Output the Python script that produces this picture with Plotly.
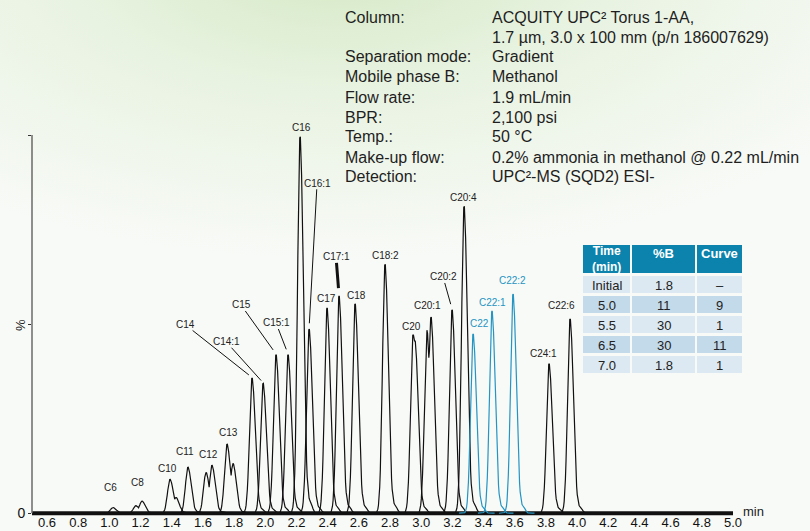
import base64
import numpy as np
import plotly.graph_objects as go

# ---- peak table: compound, retention time (min), relative intensity (%) ----
PEAK_NAMES = ["C6", "C8", "C10", "C11", "C12", "C13", "C14", "C14:1", "C15", "C15:1",
              "C16", "C16:1", "C17", "C17:1", "C18", "C18:2", "C20", "C20:1", "C20:2",
              "C20:4", "C22", "C22:1", "C22:2", "C24:1", "C22:6"]
PEAK_TIMES = [1.023, 1.209, 1.389, 1.504, 1.658, 1.755, 1.915, 1.986, 2.069, 2.146,
              2.223, 2.281, 2.396, 2.473, 2.576, 2.768, 2.948, 3.063, 3.198,
              3.275, 3.333, 3.454, 3.589, 3.820, 3.955]
PEAK_HEIGHTS = [1.5, 3.2, 9.0, 12.2, 12.7, 18.3, 35.9, 34.5, 42.1, 42.1,
                100.0, 48.9, 54.5, 57.7, 55.6, 66.1, 47.4, 52.1, 54.0,
                81.5, 47.6, 53.7, 58.2, 39.7, 51.6]
BLUE_PEAKS = ["C22", "C22:1", "C22:2"]

# unresolved shoulders riding on some of the channels
SHOULDER_PEAKS = ["C8", "C10", "C12", "C13", "C20", "C20:1"]
SHOULDER_TIMES = [1.170, 1.427, 1.620, 1.793, 2.960, 3.037]
SHOULDER_HEIGHTS = [2.0, 4.2, 10.8, 13.2, 45.8, 48.4]

# gradient table
TABLE_HEADER = ["Time<br>(min)", "%B", "Curve"]
TABLE_TIME = ["Initial", "5.0", "5.5", "6.5", "7.0"]
TABLE_B = ["1.8", "11", "30", "30", "1.8"]
TABLE_CURVE = ["\u2013", "9", "1", "11", "1"]

# method conditions
COND_KEYS = ["Column:", "", "Separation mode:", "Mobile phase B:", "Flow rate:",
             "BPR:", "Temp.:", "Make-up flow:", "Detection:"]
COND_VALUES = ["ACQUITY UPC\u00b2 Torus 1-AA,", "1.7 \u00b5m, 3.0 x 100 mm (p/n 186007629)",
               "Gradient", "Methanol", "1.9 mL/min", "2,100 psi", "50 \u00b0C",
               "0.2% ammonia in methanol @ 0.22 mL/min", "UPC\u00b2-MS (SQD2) ESI-"]

X_TICKS = [round(0.6 + 0.2 * i, 1) for i in range(23)]
X_END = 5.0

# ---- layout geometry (pixels) ----
W_FIG, H_FIG = 810, 531
M_L, M_R, M_T, M_B = 32, 10, 135, 14
PLOT_W = W_FIG - M_L - M_R
PLOT_H = H_FIG - M_T - M_B
PX_PER_MIN = 155.909
X0 = 0.6 - (47 - M_L) / PX_PER_MIN
X1 = X0 + PLOT_W / PX_PER_MIN
Y_LO, Y_HI = -1.0, 100.0


def pxx(x):
    return (x - M_L) / PLOT_W


def pxy(y):
    return (H_FIG - M_B - y) / PLOT_H


BLACK = "#111111"
BLUE = "#2494c2"
FONT = "Liberation Sans, Arial, sans-serif"


def peak_shape(t, t0, h):
    """Slightly tailing chromatographic peak with a small post-peak ripple."""
    s = np.where(t < t0, 0.016, 0.021)
    main = h * np.exp(-0.5 * ((t - t0) / s) ** 2)
    ripple = 0.025 * h * np.exp(-0.5 * ((t - t0 - 0.068) / 0.012) ** 2)
    return main + ripple


fig = go.Figure()

# thick noisy baseline shared by all channels
fig.add_trace(go.Scatter(x=[X0, X_END], y=[0, 0], mode="lines",
                         line=dict(color=BLACK, width=4), hoverinfo="skip",
                         showlegend=False))

for name, t0, h in zip(PEAK_NAMES, PEAK_TIMES, PEAK_HEIGHTS):
    t = t0 + np.arange(-0.09, 0.14, 0.004)
    y = peak_shape(t, t0, h)
    if name in SHOULDER_PEAKS:
        k = SHOULDER_PEAKS.index(name)
        y = np.maximum(y, peak_shape(t, SHOULDER_TIMES[k], SHOULDER_HEIGHTS[k]))
    fig.add_trace(go.Scatter(x=t, y=y, mode="lines", name=name,
                             line=dict(color=BLUE if name in BLUE_PEAKS else BLACK,
                                       width=1.2),
                             showlegend=False))

# ---- peak labels: (dx, dy) pixel offset of label centre from apex ----
LABEL_OFFSET = {
    "C6": (-2, -20), "C8": (-4, -19), "C10": (-3, -11), "C11": (-3, -16),
    "C12": (-3, -11), "C13": (1, -12), "C16": (1, -8), "C17": (-1, -9),
    "C18": (1, -7), "C18:2": (0, -8), "C20": (-2, -7), "C20:1": (-4, -11),
    "C20:4": (-1, -7), "C22": (6, -10), "C22:1": (1, -8), "C22:2": (-1, -13),
    "C24:1": (-6, -10), "C22:6": (-9, -13),
}
# labels joined to their peak by a leader line: (ax, ay, standoff, width)
LEADER = {
    "C14": (-67, -53, 4, 1), "C14:1": (-37, -41, 3, 1), "C15": (-35, -49, 5, 1),
    "C15:1": (-12, -31, 5, 1), "C16:1": (8, -145, 5, 1), "C17:1": (-3, -38, 7, 3),
    "C20:2": (-9, -32, 5, 1),
}

annotations = []


def paper_text(x, y, text, size, color, xanchor="center", **kw):
    annotations.append(dict(x=pxx(x), y=pxy(y), xref="paper", yref="paper", text=text,
                            xanchor=xanchor, yanchor="middle", showarrow=False,
                            font=dict(size=size, color=color, family=FONT), **kw))


for name, t0, h in zip(PEAK_NAMES, PEAK_TIMES, PEAK_HEIGHTS):
    col = BLUE if name in BLUE_PEAKS else "#222222"
    if name in LEADER:
        ax, ay, so, wd = LEADER[name]
        annotations.append(dict(x=t0, y=h, xref="x", yref="y", text=name,
                                showarrow=True, arrowhead=0, arrowwidth=wd,
                                arrowcolor=BLACK, ax=ax, ay=ay, standoff=so,
                                borderpad=0, font=dict(size=10, color=col, family=FONT)))
    else:
        dx, dy = LABEL_OFFSET[name]
        annotations.append(dict(x=t0, y=h, xref="x", yref="y", text=name,
                                xanchor="center", yanchor="middle",
                                showarrow=False, xshift=dx, yshift=-dy,
                                font=dict(size=10, color=col, family=FONT)))

# axis captions
paper_text(20, 325, "%", 13, "#222222", textangle=-90)
paper_text(741, 511, "min", 13, "#222222", xanchor="left")

# method conditions block
for i, (k, v) in enumerate(zip(COND_KEYS, COND_VALUES)):
    yc = 17 + 20 * i
    if k:
        paper_text(343, yc, k, 16, "#1e1e1e", xanchor="left")
    paper_text(490, yc, v, 16, "#1e1e1e", xanchor="left")

# ---- gradient table drawn from shapes ----
shapes = []
COLS = [(583, 630), (632, 695), (697, 742)]
HEAD = (245, 273)
ROW0, ROW_H, ROW_STEP = 276, 17, 20
HEAD_FILL = "#0b83ad"
ROW_FILLS = ["#dce9f2", "#c3daea"]

cx = [(c0 + c1) / 2 for c0, c1 in COLS]
for j, (c0, c1) in enumerate(COLS):
    shapes.append(dict(type="rect", xref="paper", yref="paper",
                       x0=pxx(c0), x1=pxx(c1), y0=pxy(HEAD[1]), y1=pxy(HEAD[0]),
                       fillcolor=HEAD_FILL, line=dict(width=0), layer="above"))
    paper_text(cx[j], 259 if j == 0 else 253, "<b>" + TABLE_HEADER[j] + "</b>",
               12 if j == 0 else 13, "white")

for r, row in enumerate(zip(TABLE_TIME, TABLE_B, TABLE_CURVE)):
    top = ROW0 + r * ROW_STEP
    for j, (c0, c1) in enumerate(COLS):
        shapes.append(dict(type="rect", xref="paper", yref="paper",
                           x0=pxx(c0), x1=pxx(c1), y0=pxy(top + ROW_H), y1=pxy(top),
                           fillcolor=ROW_FILLS[r % 2], line=dict(width=0), layer="above"))
        paper_text(cx[j], top + ROW_H / 2 + 0.5, row[j], 13, "#222222")

# y axis line from 0 to 100 %
shapes.append(dict(type="line", xref="paper", yref="y", x0=0, x1=0, y0=0, y1=100,
                   line=dict(color="#6a6a6a", width=1.5), layer="above"))

# soft green backdrop
svg = (
    "<svg xmlns='http://www.w3.org/2000/svg' width='810' height='531'>"
    "<defs><radialGradient id='g' gradientUnits='userSpaceOnUse' cx='0' cy='0' r='1' "
    "gradientTransform='translate(340 -40) scale(620 300)'>"
    "<stop offset='0' stop-color='#d5e9c5'/>"
    "<stop offset='0.45' stop-color='#e9f3e2'/>"
    "<stop offset='1' stop-color='#f8faf7'/>"
    "</radialGradient></defs>"
    "<rect width='810' height='531' fill='url(#g)'/></svg>"
)
bg_src = "data:image/svg+xml;base64," + base64.b64encode(svg.encode()).decode()

fig.update_layout(
    width=W_FIG, height=H_FIG,
    margin=dict(l=M_L, r=M_R, t=M_T, b=M_B, pad=0, autoexpand=False),
    paper_bgcolor="#f8faf7", plot_bgcolor="rgba(0,0,0,0)",
    showlegend=False,
    font=dict(family=FONT, color="#111111"),
    xaxis=dict(range=[X0, X1], tickvals=X_TICKS,
               ticktext=[f"{v:.1f}" for v in X_TICKS], automargin=False,
               ticks="", showline=False,
               showgrid=False, zeroline=False, tickfont=dict(size=13, color="#111111"),
               ticklabelstandoff=-4, fixedrange=True),
    yaxis=dict(range=[Y_LO, Y_HI], tickvals=[0, 50, 100], ticktext=["0", "", ""],
               automargin=False,
               ticks="outside", ticklen=3, tickcolor="#333333", showline=False,
               showgrid=False, zeroline=False, tickfont=dict(size=14, color="#111111"),
               fixedrange=True),
    annotations=annotations,
    shapes=shapes,
    images=[dict(source=bg_src, xref="paper", yref="paper",
                 x=-M_L / PLOT_W, y=1 + M_T / PLOT_H,
                 sizex=W_FIG / PLOT_W, sizey=H_FIG / PLOT_H,
                 xanchor="left", yanchor="top", sizing="stretch", layer="below")],
)

fig.write_html("out.html")
